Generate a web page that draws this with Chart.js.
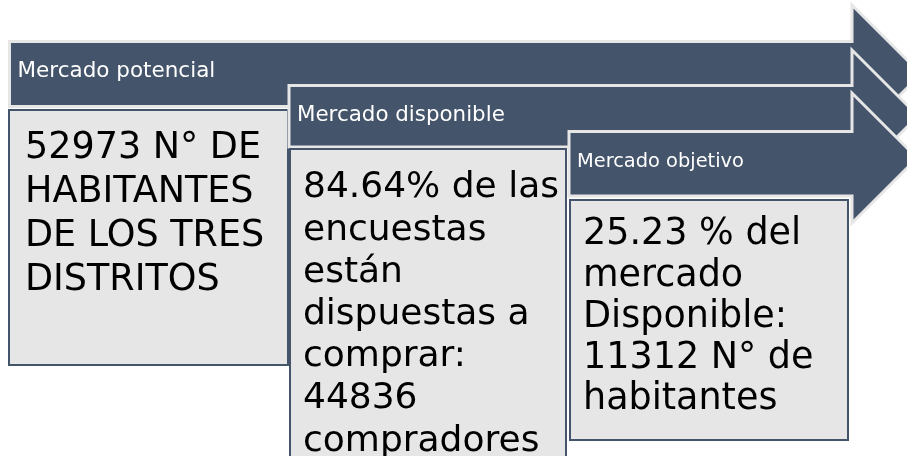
<!DOCTYPE html>
<html>
<head>
<meta charset="utf-8">
<script src="https://cdn.jsdelivr.net/npm/chart.js@4.4.1/dist/chart.umd.min.js"></script>
<style>
  html, body { margin: 0; padding: 0; background: #fff; }
  #wrap { width: 907px; height: 456px; }
</style>
</head>
<body>
<div id="wrap"><canvas id="market" width="907" height="456"></canvas></div>
<script>
// stages of the market funnel
const stages = ['Mercado potencial', 'Mercado disponible', 'Mercado objetivo'];
const stageText = [
  ['52973 N° DE', 'HABITANTES', 'DE LOS TRES', 'DISTRITOS'],
  ['84.64% de las', 'encuestas', 'están', 'dispuestas a', 'comprar:', '44836', 'compradores'],
  ['25.23 % del', 'mercado', 'Disponible:', '11312 N° de', 'habitantes'],
];

const dark = '#44546a';
const light = '#e7e6e6';
const fontFamily = '"DejaVu Sans", sans-serif';

// geometry of the arrows and boxes, in scale units (1 unit = 1 px)
const neck = 852;
const arrowGeo = [
  { left: 9.5, top: 41.5, bottom: 106.5, headTop: 5, headBottom: 143 },
  { left: 289, top: 85.5, bottom: 147, headTop: 50, headBottom: 182 },
  { left: 569, top: 131.5, bottom: 196, headTop: 93, headBottom: 223 },
];
const boxGeo = [
  { left: 9, right: 288, top: 110, bottom: 365 },
  { left: 290, right: 566, top: 149, bottom: 480 },
  { left: 570, right: 848, top: 200, bottom: 440 },
];
const headerFont = [21.5, 21.4, 19.4];
const textFont = [36.5, 36, 36.5];
const textPad = [16, 13, 13];
const firstLine = [39, 39, 35];
const lineGap = [44, 42.2, 41.2];

const diagram = {
  id: 'diagram',
  afterDraw(chart) {
    const { ctx } = chart;
    const x = v => chart.scales.x.getPixelForValue(v);
    const y = v => chart.scales.y.getPixelForValue(v);
    ctx.save();
    stages.forEach((title, i) => {
      const a = arrowGeo[i];
      const mid = (a.headTop + a.headBottom) / 2;
      const half = (a.headBottom - a.headTop) / 2;
      ctx.beginPath();
      ctx.moveTo(x(a.left), y(a.top));
      ctx.lineTo(x(neck), y(a.top));
      ctx.lineTo(x(neck), y(a.headTop));
      ctx.lineTo(x(neck + half), y(mid));
      ctx.lineTo(x(neck), y(a.headBottom));
      ctx.lineTo(x(neck), y(a.bottom));
      ctx.lineTo(x(a.left), y(a.bottom));
      ctx.closePath();
      ctx.fillStyle = dark;
      ctx.fill();
      ctx.lineWidth = 3;
      ctx.strokeStyle = light;
      ctx.lineJoin = 'miter';
      ctx.stroke();

      ctx.fillStyle = '#ffffff';
      ctx.font = headerFont[i] + 'px ' + fontFamily;
      ctx.textBaseline = 'middle';
      ctx.textAlign = 'left';
      ctx.fillText(title, x(a.left + 8), y(a.top + 30));

      const b = boxGeo[i];
      ctx.beginPath();
      ctx.rect(x(b.left), y(b.top), x(b.right) - x(b.left), y(b.bottom) - y(b.top));
      ctx.fillStyle = light;
      ctx.fill();
      ctx.lineWidth = 2;
      ctx.strokeStyle = dark;
      ctx.stroke();

      ctx.fillStyle = '#000000';
      ctx.font = textFont[i] + 'px ' + fontFamily;
      stageText[i].forEach((line, j) => {
        ctx.fillText(line, x(b.left + textPad[i]), y(b.top + firstLine[i] + j * lineGap[i]));
      });
    });
    ctx.restore();
  },
};

new Chart(document.getElementById('market'), {
  type: 'scatter',
  data: { datasets: [{ data: [], showLine: false }] },
  options: {
    responsive: false,
    animation: false,
    layout: { padding: 0 },
    plugins: { legend: { display: false }, tooltip: { enabled: false } },
    scales: {
      x: { type: 'linear', min: 0, max: 907, display: false },
      y: { type: 'linear', min: 0, max: 456, reverse: true, display: false },
    },
  },
  plugins: [diagram],
});
</script>
</body>
</html>
